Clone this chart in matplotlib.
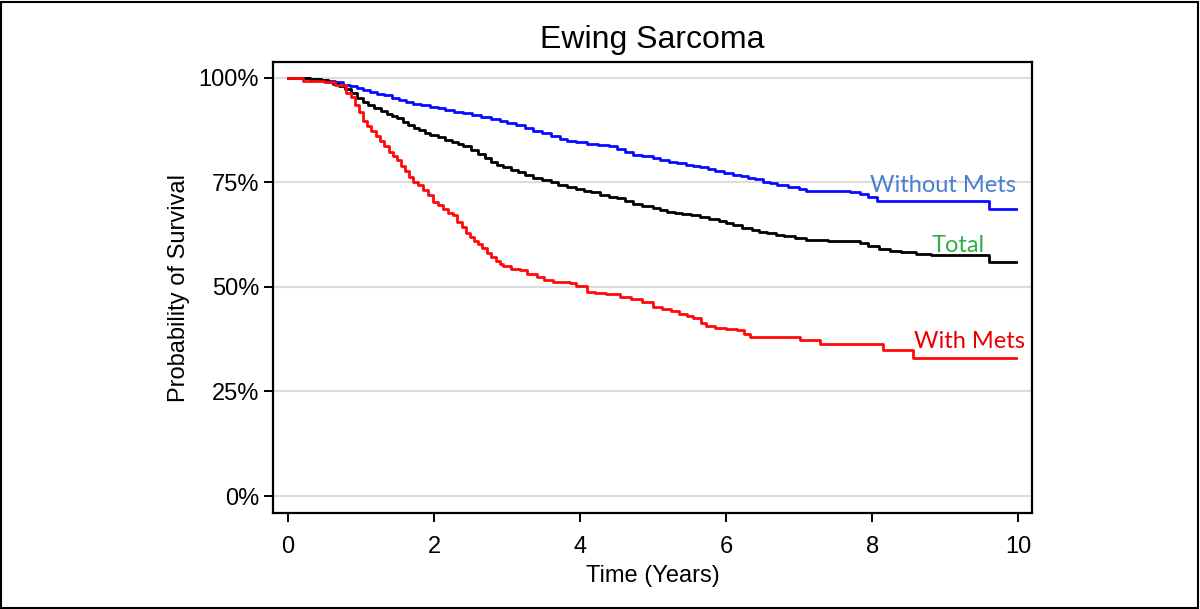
'''     Ewing Sarcoma survival curves     '''

import matplotlib.pyplot as plt
from matplotlib.patches import Rectangle

# survival (time in years, survival in %)
t_without = [0, 0.3, 0.45, 0.55, 0.65, 0.75, 0.85, 0.95, 1.03, 1.12, 1.22, 1.32, 1.42, 1.52,
             1.62, 1.71, 1.82, 1.95, 2.05, 2.15, 2.28, 2.4, 2.52, 2.65, 2.78, 2.9, 3.0, 3.12,
             3.24, 3.36, 3.48, 3.6, 3.72, 3.82, 3.95, 4.1, 4.25, 4.4, 4.5, 4.62, 4.73, 4.85,
             5.0, 5.1, 5.22, 5.33, 5.45, 5.55, 5.64, 5.75, 5.85, 5.97, 6.1, 6.2, 6.3, 6.4,
             6.5, 6.6, 6.7, 6.85, 7.0, 7.1, 7.5, 7.7, 7.84, 7.95, 8.07, 9.6, 9.97]
s_without = [100, 99.8, 99.6, 99.3, 98.9, 98.4, 98.0, 97.5, 97.0, 96.6, 96.2, 95.8, 95.3, 94.8,
             94.3, 93.7, 93.4, 93.0, 92.7, 92.3, 91.9, 91.5, 91.1, 90.7, 90.2, 89.7, 89.3, 88.8,
             88.1, 87.3, 86.7, 86.1, 85.5, 85.0, 84.6, 84.3, 83.9, 83.6, 83.0, 82.2, 81.5, 81.2,
             80.9, 80.4, 79.9, 79.6, 79.2, 79.0, 78.7, 78.2, 77.7, 77.3, 76.8, 76.5, 76.1, 75.7,
             75.2, 74.8, 74.3, 73.8, 73.4, 73.0, 72.9, 72.6, 72.2, 71.4, 70.6, 68.7, 68.7]

t_total = [0, 0.3, 0.45, 0.55, 0.62, 0.7, 0.78, 0.86, 0.95, 1.03, 1.1, 1.18, 1.27, 1.35, 1.42,
           1.49, 1.57, 1.65, 1.73, 1.8, 1.88, 1.95, 2.05, 2.15, 2.25, 2.33, 2.4, 2.5, 2.6, 2.7,
           2.78, 2.86, 2.95, 3.05, 3.15, 3.25, 3.36, 3.48, 3.6, 3.7, 3.82, 3.95, 4.05, 4.15,
           4.27, 4.4, 4.5, 4.62, 4.73, 4.85, 5.0, 5.1, 5.19, 5.3, 5.4, 5.52, 5.64, 5.77, 5.9,
           6.0, 6.1, 6.22, 6.35, 6.45, 6.56, 6.68, 6.8, 6.95, 7.1, 7.4, 7.7, 7.84, 7.95, 8.1,
           8.25, 8.4, 8.6, 8.8, 9.6, 9.97]
s_total = [100, 99.8, 99.5, 99.1, 98.6, 98.0, 97.3, 96.5, 95.3, 94.3, 93.6, 92.9, 92.0, 91.3,
           90.8, 90.3, 89.5, 88.8, 88.0, 87.5, 86.9, 86.4, 85.8, 85.2, 84.6, 84.1, 83.6, 82.8,
           81.8, 80.8, 80.0, 79.2, 78.6, 78.0, 77.4, 76.7, 76.0, 75.5, 75.0, 74.5, 74.0, 73.5,
           73.0, 72.6, 72.0, 71.6, 71.2, 70.5, 69.8, 69.4, 68.9, 68.4, 68.0, 67.8, 67.5, 67.1,
           66.8, 66.2, 65.7, 65.3, 64.8, 64.2, 63.6, 63.2, 62.8, 62.5, 62.2, 61.7, 61.2, 61.0,
           60.9, 60.6, 59.8, 59.0, 58.6, 58.3, 57.9, 57.7, 56.0, 56.0]

t_with = [0, 0.2, 0.5, 0.65, 0.8, 0.86, 0.92, 0.97, 1.03, 1.08, 1.14, 1.2, 1.26, 1.32, 1.38,
          1.44, 1.49, 1.55, 1.6, 1.66, 1.71, 1.78, 1.85, 1.92, 1.99, 2.05, 2.12, 2.19, 2.26,
          2.32, 2.38, 2.44, 2.49, 2.55, 2.6, 2.66, 2.72, 2.78, 2.85, 2.9, 2.95, 3.05, 3.18,
          3.28, 3.41, 3.5, 3.63, 3.75, 3.86, 3.95, 4.09, 4.2, 4.35, 4.55, 4.7, 4.85, 5.0,
          5.12, 5.25, 5.35, 5.46, 5.55, 5.65, 5.72, 5.85, 6.0, 6.15, 6.25, 6.33, 7.01, 7.29,
          8.15, 8.56, 9.97]
s_with = [100, 99.3, 99.0, 98.2, 96.3, 95.5, 93.5, 91.8, 89.6, 88.6, 87.2, 86.0, 84.8, 83.6,
          82.3, 81.4, 80.4, 79.0, 77.8, 76.4, 75.2, 74.3, 73.3, 71.9, 70.4, 69.6, 68.6, 67.6,
          67.2, 65.6, 64.3, 63.0, 62.0, 61.0, 60.3, 59.2, 58.1, 57.2, 56.2, 55.5, 54.9, 54.4,
          54.1, 53.0, 52.3, 51.6, 51.3, 51.1, 50.9, 50.2, 48.9, 48.6, 48.2, 47.7, 47.0, 46.3,
          45.3, 44.8, 44.2, 43.6, 43.1, 42.6, 41.3, 40.7, 40.3, 39.9, 39.6, 38.8, 38.0, 37.3,
          36.4, 34.9, 32.9, 32.9]

x_ticks = [0, 2, 4, 6, 8, 10]
y_ticks = [0, 25, 50, 75, 100]
y_labels = ['0%', '25%', '50%', '75%', '100%']

plt.rcParams['font.family'] = 'Liberation Sans'

fig = plt.figure(figsize=(12, 6.09), dpi=100)
fig.patches.append(Rectangle((0.001, 0.002), 0.997, 0.995, transform=fig.transFigure,
                             fill=False, edgecolor='black', linewidth=1.5))
ax = fig.add_axes([0.2275, 0.1576, 0.6325, 0.7406])

ax.step(t_without, s_without, where='post', color='#0a0aff', lw=2)
ax.step(t_total, s_total, where='post', color='black', lw=2)
ax.step(t_with, s_with, where='post', color='#ff0a0a', lw=2)

ax.text(7.97, 72.7, 'Without Mets', color='#4a7fd0', fontsize=17, family='Lato', va='baseline')
ax.text(8.82, 58.4, 'Total', color='#2fae4a', fontsize=17, family='Lato', va='baseline')
ax.text(8.58, 35.4, 'With Mets', color='#e80000', fontsize=17, family='Lato', va='baseline')

ax.set_xlim(-0.205, 10.19)
ax.set_ylim(-4.07, 103.8)
ax.set_xticks(x_ticks)
ax.set_yticks(y_ticks)
ax.set_yticklabels(y_labels)
ax.yaxis.grid(True, color='#dcdcdc', lw=1.5)
ax.set_axisbelow(True)
for sp in ax.spines.values():
    sp.set_linewidth(1.6)
ax.tick_params(labelsize=17, length=6.5, width=1.4)
ax.tick_params(axis='x', pad=10)
ax.set_xlabel('Time (Years)', fontsize=17, labelpad=5)
ax.set_ylabel('Probability of Survival', fontsize=17, labelpad=6)
ax.set_title('Ewing Sarcoma', fontsize=23, pad=10)

fig.savefig('out.png', dpi=100)
